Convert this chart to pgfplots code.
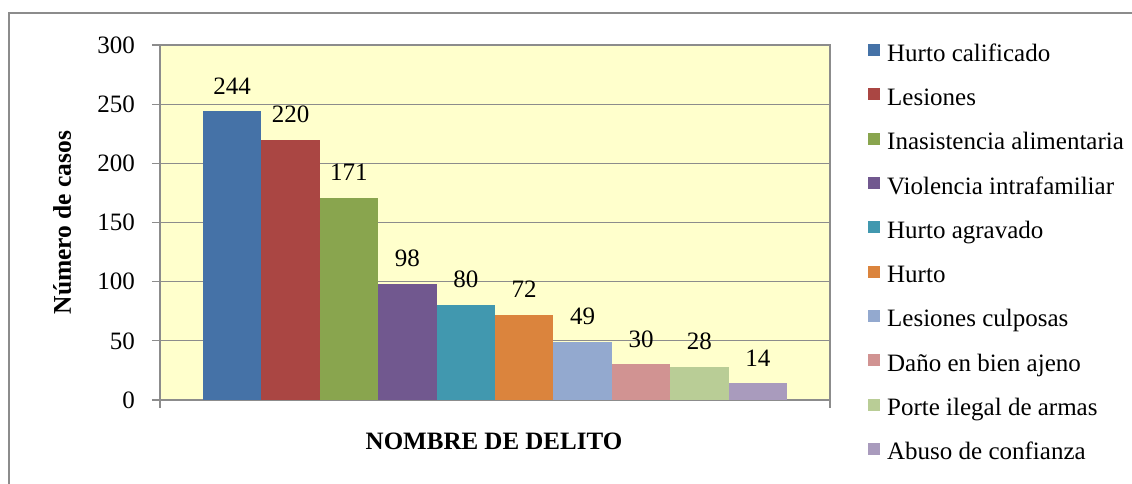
\documentclass[border=0pt]{standalone}
\usepackage{pgfplots}
\pgfplotsset{compat=1.18}
\usepackage{fontspec}
\setmainfont{Liberation Serif}
\definecolor{c1}{HTML}{4572A7}
\definecolor{c2}{HTML}{AA4643}
\definecolor{c3}{HTML}{89A54E}
\definecolor{c4}{HTML}{71588F}
\definecolor{c5}{HTML}{4198AF}
\definecolor{c6}{HTML}{DB843D}
\definecolor{c7}{HTML}{93A9CF}
\definecolor{c8}{HTML}{D19392}
\definecolor{c9}{HTML}{B9CD96}
\definecolor{c10}{HTML}{A99BBD}
\definecolor{gridc}{HTML}{8C8C8C}
\definecolor{bg}{HTML}{FFFFCC}
\begin{document}
\begin{tikzpicture}
\path[use as bounding box] (-160pt,-84pt) rectangle (972pt,400pt);
\begin{axis}[
  at={(0pt,0pt)}, anchor=south west,
  scale only axis, width=670pt, height=355pt,
  xmin=-0.236, xmax=11.236, ymin=0, ymax=300,
  ytick={0,50,...,300},
  xtick={-0.236,11.236}, xticklabels={},
  ymajorgrids, major grid style={draw=gridc, line width=1.3pt},
  axis line style={draw=gridc, line width=1.5pt},
  tick style={draw=gridc, line width=1.3pt},
  tick align=outside, major tick length=8pt,
  xtick pos=lower, ytick pos=left,
  axis background/.style={fill=bg},
  ybar, bar width=1, bar shift=0pt,
  /pgf/number format/assume math mode=true,
  tick label style={font=\fontsize{25}{29}\selectfont},
  yticklabel style={inner sep=0pt, xshift=-17pt},
  nodes near coords,
  nodes near coords style={font=\fontsize{25}{29}\selectfont, inner sep=0pt, anchor=south, yshift=17pt, text=black},
  xlabel={NOMBRE DE DELITO},
  xlabel style={at={(axis description cs:0.4985,-0.1155)}, anchor=center, font=\bfseries\fontsize{25}{29}\selectfont},
  ylabel={Número de casos},
  ylabel style={at={(axis description cs:-0.146,0.5)}, anchor=center, rotate=0, font=\bfseries\fontsize{25.5}{29}\selectfont},
  legend style={at={(axis description cs:1.0522,1.0086)}, anchor=north west, draw=none, fill=none,
    font=\fontsize{25}{29}\selectfont, row sep=22.3pt, column sep=7pt,
    nodes={inner sep=0pt, text height=17pt, text depth=5pt}},
  legend cell align=left,
  legend image code/.code={\fill[#1,draw=none] (0pt,-1pt) rectangle (12pt,11pt);},
]
\addplot[fill=c1, draw=none] coordinates {(1,244)};
\addplot[fill=c2, draw=none] coordinates {(2,220)};
\addplot[fill=c3, draw=none] coordinates {(3,171)};
\addplot[fill=c4, draw=none] coordinates {(4,98)};
\addplot[fill=c5, draw=none] coordinates {(5,80)};
\addplot[fill=c6, draw=none] coordinates {(6,72)};
\addplot[fill=c7, draw=none] coordinates {(7,49)};
\addplot[fill=c8, draw=none] coordinates {(8,30)};
\addplot[fill=c9, draw=none] coordinates {(9,28)};
\addplot[fill=c10, draw=none] coordinates {(10,14)};
\legend{Hurto calificado, Lesiones, Inasistencia alimentaria, Violencia intrafamiliar, Hurto agravado, Hurto, Lesiones culposas, Daño en bien ajeno, Porte ilegal de armas, Abuso de confianza}
\end{axis}
\draw[gridc, line width=1.5pt] (-151pt,-100pt) -- (-151pt,387pt) -- (990pt,387pt);
\end{tikzpicture}
\end{document}
